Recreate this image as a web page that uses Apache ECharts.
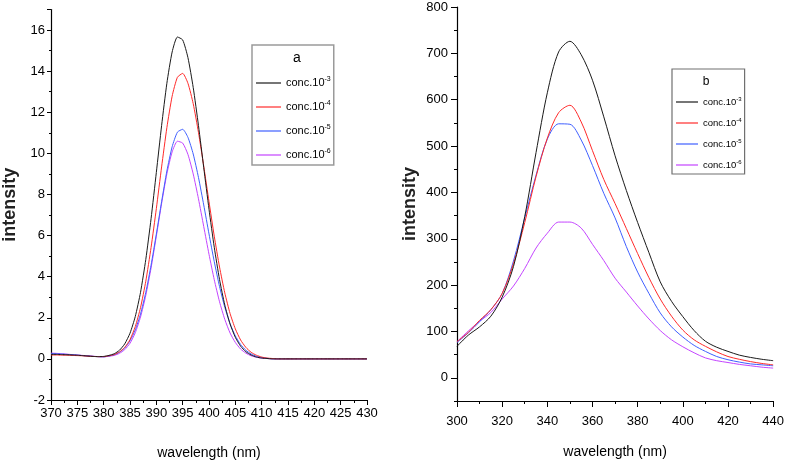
<!DOCTYPE html>
<html><head><meta charset="utf-8">
<script src="https://cdn.jsdelivr.net/npm/echarts@6/dist/echarts.min.js"></script>
<style>html,body{margin:0;padding:0;background:#fff}#c{width:787px;height:465px}</style>
</head><body><div id="c"></div>
<script>
// ---- data ----
const seriesNames = ['conc.10-3', 'conc.10-4', 'conc.10-5', 'conc.10-6'];

// panel a
const leftWavelengths = [370,371,372,373,374,375,376,377,378,379,380,381,382,383,384,385,386,387,388,389,390,391,392,393,394,395,396,397,398,399,400,401,402,403,404,405,406,407,408,409,410,411,412,413,414,415,416,417,418,419,420,421,422,423,424,425,426,427,428,429,430];
const leftConc3 = [0.22,0.22,0.21,0.2,0.19,0.18,0.16,0.14,0.12,0.11,0.12,0.17,0.25,0.42,0.73,1.25,2.06,3.24,4.84,6.82,9.07,11.35,13.41,14.93,15.66,15.52,14.66,13.21,11.36,9.31,7.28,5.43,3.86,2.62,1.70,1.05,0.62,0.35,0.19,0.09,0.04,0.02,0,0,0,0,0,0,0,0,0,0,0,0,0,0,0,0,0,0,0];
const leftConc4 = [0.19,0.19,0.18,0.18,0.17,0.16,0.15,0.13,0.12,0.11,0.11,0.15,0.21,0.34,0.56,0.94,1.57,2.5,3.78,5.42,7.31,9.34,11.25,12.78,13.7,13.89,13.41,12.42,11.02,9.38,7.65,5.97,4.47,3.21,2.21,1.46,0.92,0.56,0.32,0.18,0.09,0.04,0.02,0,0,0,0,0,0,0,0,0,0,0,0,0,0,0,0,0,0];
const leftConc5 = [0.26,0.25,0.24,0.22,0.2,0.18,0.16,0.14,0.12,0.11,0.1,0.14,0.2,0.32,0.53,0.88,1.41,2.19,3.24,4.56,6.07,7.65,9.14,10.32,11.03,11.17,10.78,9.97,8.83,7.49,6.08,4.73,3.52,2.51,1.71,1.12,0.70,0.42,0.24,0.13,0.07,0.03,0.01,0,0,0,0,0,0,0,0,0,0,0,0,0,0,0,0,0,0];
const leftConc6 = [0.28,0.27,0.25,0.23,0.21,0.19,0.17,0.15,0.13,0.11,0.1,0.13,0.17,0.27,0.45,0.76,1.27,2.04,3.09,4.42,5.97,7.56,9.0,10.07,10.59,10.5,9.95,9.0,7.79,6.44,5.09,3.85,2.78,1.92,1.26,0.80,0.48,0.28,0.15,0.08,0.04,0.02,0,0,0,0,0,0,0,0,0,0,0,0,0,0,0,0,0,0,0];

// panel b
const rightWavelengths = [300,305,310,315,320,325,330,335,340,345,350,355,360,365,370,375,380,385,390,395,400,405,410,415,420,425,430,435,440];
const rightConc3 = [68,92,110,133,174,240,348,486,615,703,726,697,642,563,479,404,335,270,207,165,132,102,79,66,57,49,44,40,37];
const rightConc4 = [78,98,124,147,182,246,335,434,517,572,588,552,490,428,376,322,268,216,170,133,103,82,68,56,46,40,35,31,28];
const rightConc5 = [76,97,121,147,182,252,345,437,515,548,547,513,458,398,345,283,228,182,140,110,88,70,57,46,39,34,30,28,26];
const rightConc6 = [78,101,122,141,170,198,236,280,312,336,336,323,288,253,215,185,155,127,102,82,67,54,43,37,33,29,26,23,21];

// tick labels
const rightYMajorTicks = [0,100,200,300,400,500,600,700,800];
const rightYMinorTicks = [-50,50,150,250,350,450,550,650,750];

// ---- styles ----
const colors = ['#1a1a1a', '#ff2a2a', '#3f5fff', '#c444ff'];
const font = "'Liberation Sans', Arial, sans-serif";

function pairs(xs, ys) { return xs.map((x, i) => [x, ys[i]]); }
const leftSets = [leftConc3, leftConc4, leftConc5, leftConc6];
const rightSets = [rightConc3, rightConc4, rightConc5, rightConc6];

const series = [];
leftSets.forEach((d, i) => series.push({
  name: seriesNames[i], type: 'line', xAxisIndex: 0, yAxisIndex: 0,
  symbol: 'none', smooth: 0.2, lineStyle: { width: 1, color: colors[i] }, itemStyle: { color: colors[i] },
  data: pairs(leftWavelengths, d), z: 10 - i
}));
rightSets.forEach((d, i) => series.push({
  name: seriesNames[i], type: 'line', xAxisIndex: 1, yAxisIndex: 1,
  symbol: 'none', smooth: 0.3, lineStyle: { width: 1, color: colors[i] }, itemStyle: { color: colors[i] },
  data: pairs(rightWavelengths, d), z: 10 - i
}));

const axisCommon = {
  type: 'value',
  axisLine: { show: true, onZero: false, lineStyle: { color: '#000', width: 1.2 } },
  splitLine: { show: false },
  axisTick: { show: true, inside: false, lineStyle: { color: '#000' } },
  minorTick: { show: true, splitNumber: 2, lineStyle: { color: '#000' } },
};
const supFmt = n => n.replace(/^(.*10)(-\d)$/, '$1{s|$2}');

const chart = echarts.init(document.getElementById('c'), null, { renderer: 'canvas' });
chart.setOption({
  animation: false,
  backgroundColor: '#fff',
  grid: [
    { left: 49, top: 9.5, width: 318, height: 391 },
    { left: 457, top: 7, width: 321, height: 394 }
  ],
  xAxis: [
    Object.assign({}, axisCommon, {
      gridIndex: 0, min: 370, max: 430, interval: 5,
      axisTick: Object.assign({}, axisCommon.axisTick, { length: 5 }),
      minorTick: Object.assign({}, axisCommon.minorTick, { length: 3 }),
      axisLabel: { margin: 7, color: '#000', fontSize: 13, fontFamily: font },
      name: 'wavelength (nm)', nameLocation: 'middle', nameGap: 46,
      nameTextStyle: { fontSize: 14, fontFamily: font, color: '#000' }
    }),
    Object.assign({}, axisCommon, {
      gridIndex: 1, min: 300, max: 440, interval: 20,
      axisTick: Object.assign({}, axisCommon.axisTick, { length: 6 }),
      minorTick: Object.assign({}, axisCommon.minorTick, { length: 3 }),
      axisLabel: { margin: 14, color: '#000', fontSize: 13, fontFamily: font },
      name: 'wavelength (nm)', nameLocation: 'middle', nameGap: 44,
      nameTextStyle: { fontSize: 14, fontFamily: font, color: '#000' }
    })
  ],
  yAxis: [
    Object.assign({}, axisCommon, {
      gridIndex: 0, min: -2, max: 17, interval: 2,
      axisTick: Object.assign({}, axisCommon.axisTick, { length: 4 }),
      minorTick: Object.assign({}, axisCommon.minorTick, { length: 2 }),
      axisLabel: { margin: 6, color: '#000', fontSize: 13, fontFamily: font, showMaxLabel: false },
      name: 'intensity', nameLocation: 'middle', nameGap: 32,
      nameTextStyle: { fontSize: 18, fontWeight: 'bold', fontFamily: font, color: '#222' }
    }),
    Object.assign({}, axisCommon, {
      gridIndex: 1, position: 'left', min: -50, max: 800, interval: 50,
      axisTick: Object.assign({}, axisCommon.axisTick, { length: 6, customValues: rightYMajorTicks }),
      minorTick: { show: false },
      axisLabel: { margin: 9, color: '#000', fontSize: 13, fontFamily: font, customValues: rightYMajorTicks },
      name: 'intensity', nameLocation: 'middle', nameGap: 38,
      nameTextStyle: { fontSize: 18, fontWeight: 'bold', fontFamily: font, color: '#222' }
    }),
    Object.assign({}, axisCommon, {
      gridIndex: 1, position: 'left', offset: 0, min: -50, max: 800, interval: 50,
      axisLine: { show: false },
      axisTick: Object.assign({}, axisCommon.axisTick, { length: 3, customValues: rightYMinorTicks }),
      minorTick: { show: false },
      axisLabel: { show: false }
    })
  ],
  legend: [
    {
      left: 252, top: 45, orient: 'vertical', padding: [31, 3, 3, 4],
      itemGap: 10, itemWidth: 25, itemHeight: 1.2, icon: 'rect',
      borderColor: '#9a9a9a', borderWidth: 1.5,
      data: seriesNames, formatter: supFmt,
      textStyle: { fontFamily: font, fontSize: 11, lineHeight: 14, color: '#000',
        rich: { s: { fontFamily: font, fontSize: 7, lineHeight: 14, verticalAlign: 'top', color: '#000' } } }
    },
    {
      left: 672, top: 69, orient: 'vertical', padding: [27, 3, 3, 4],
      itemGap: 9, itemWidth: 22, itemHeight: 1.2, icon: 'rect',
      borderColor: '#707070', borderWidth: 1.2,
      data: seriesNames, formatter: supFmt,
      textStyle: { fontFamily: font, fontSize: 9.5, lineHeight: 12, color: '#000',
        rich: { s: { fontFamily: font, fontSize: 6, lineHeight: 12, verticalAlign: 'top', color: '#000' } } }
    }
  ],
  graphic: [
    { type: 'text', x: 297, y: 58, style: { text: 'a', font: "14px 'Liberation Sans', sans-serif", fill: '#000', align: 'center', verticalAlign: 'middle' } },
    { type: 'text', x: 706, y: 82, style: { text: 'b', font: "12px 'Liberation Sans', sans-serif", fill: '#000', align: 'center', verticalAlign: 'middle' } }
  ],
  series: series
});
</script>
</body></html>
